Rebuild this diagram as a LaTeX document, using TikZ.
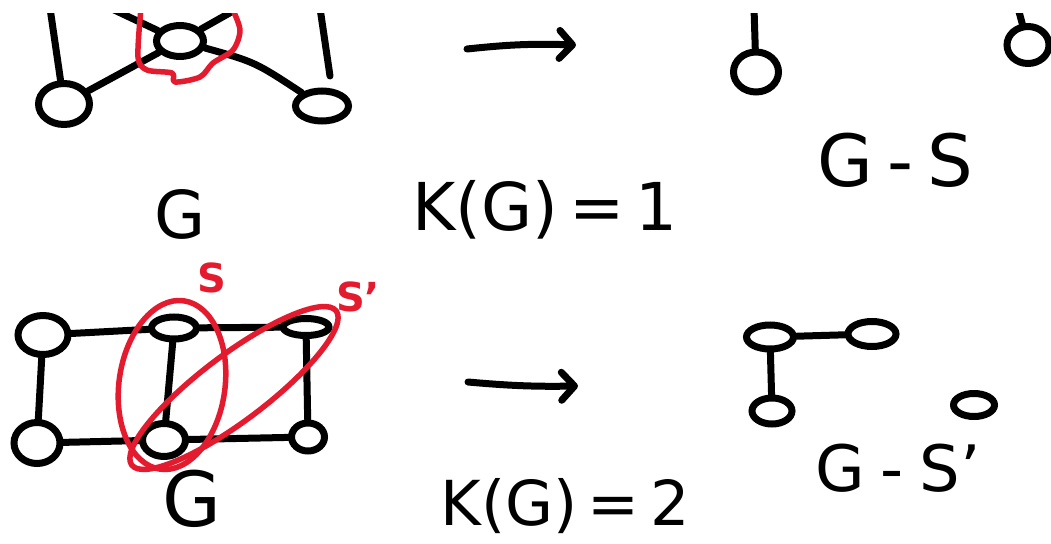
\documentclass[tikz,border=0pt]{standalone}
\usepackage{fontspec}
\setmainfont{DejaVu Sans}
\usetikzlibrary{shapes.geometric,arrows.meta}
\definecolor{inkred}{RGB}{228,26,46}
\tikzset{
  ink/.style={line width=7pt, line cap=round, line join=round, black},
  redink/.style={line width=5.5pt, line cap=round, line join=round, inkred},
  vert/.style={ellipse, draw, line width=7pt, inner sep=0pt},
  txt/.style={inner sep=0pt, font=\fontsize{66}{70}\selectfont},
  redtxt/.style={inner sep=0pt, text=inkred, font=\bfseries\fontsize{40}{44}\selectfont},
  harrow/.style={ink, -{Straight Barb[length=13pt, width=28pt, line cap=round, line join=round]}}
}
\begin{document}
\begin{tikzpicture}[x=1pt, y=-1pt]
\useasboundingbox (0,0) rectangle (1051,543);
\fill[white] (0,0) rectangle (1051,543);
\clip (0,14) rectangle (1051,543);
% ---------- top graph G ----------
\node[vert, minimum width=47pt, minimum height=31pt] (c) at (180,41) {};
\node[vert, minimum width=51pt, minimum height=41pt] (l) at (64,104) {};
\node[vert, minimum width=53pt, minimum height=30pt] (r) at (322,106) {};
\coordinate (cul) at (110,8);
\coordinate (cur) at (242,6);
\coordinate (lt) at (50,8);
\coordinate (rt) at (320,8);
\coordinate (rtb) at (330,76);
\draw[ink] (c) -- (cul);
\draw[ink] (c) -- (cur);
\draw[ink] (l) -- (lt);
\draw[ink] (l) -- (c);
\draw[ink] (c) .. controls (255,62) .. (r);
\draw[ink] (rt) -- (rtb);
\draw[redink] plot[smooth] coordinates {(141,8) (138,57) (147,70) (172,73) (175,82) (200,77) (213,63) (233,50) (240,30) (232,8)};
\node[txt] (g1) at (180,214) {G};
% arrow 1
\coordinate (a1s) at (467,49);
\coordinate (a1e) at (576,45);
\draw[harrow] (a1s) to[bend left=4] (a1e);
\node[txt] (k1) at (545,210) {K(G)\,=\,1};
% ---------- top right G-S ----------
\node[vert, minimum width=45pt, minimum height=40pt] (p) at (756,72) {};
\node[vert, minimum width=42pt, minimum height=37pt] (q) at (1028,45) {};
\coordinate (pt) at (754,8);
\coordinate (qt) at (1018,8);
\draw[ink] (p) -- (pt);
\draw[ink] (q) -- (qt);
\node[txt, font=\fontsize{72}{76}\selectfont] (gs) at (895,160) {G\hspace{14pt}-\hspace{14pt}S};
% ---------- bottom graph G ----------
\node[vert, minimum width=50pt, minimum height=39pt] (TL) at (43,335) {};
\node[vert, minimum width=45pt, minimum height=22pt] (TM) at (174,328) {};
\node[vert, minimum width=46pt, minimum height=17pt] (TR) at (306,327) {};
\node[vert, minimum width=46pt, minimum height=41pt] (BL) at (37,443) {};
\node[vert, minimum width=43pt, minimum height=33pt] (BM) at (164,440) {};
\node[vert, minimum width=33pt, minimum height=28pt] (BR) at (308,437) {};
\draw[ink] (TL) -- (TM);
\draw[ink] (TM) -- (TR);
\draw[ink] (TL) -- (BL);
\draw[ink] (TM) -- (BM);
\draw[ink] (TR) -- (BR);
\draw[ink] (BL) -- (BM);
\draw[ink] (BM) -- (BR);
\draw[redink, rotate around={-8:(172,385)}] (172,385) ellipse [x radius=53, y radius=85];
\draw[redink, rotate around={37:(234,388)}] (234,388) ellipse [x radius=128, y radius=33];
\node[redtxt] (s) at (212,278) {S};
\node[redtxt] (sp) at (358,297) {S'};
\node[txt, font=\fontsize{76}{80}\selectfont] (g2) at (192,499) {G};
% arrow 2
\coordinate (a2s) at (468,382);
\coordinate (a2e) at (578,386);
\draw[harrow] (a2s) to[bend right=3] (a2e);
\node[txt, font=\fontsize{62}{66}\selectfont] (k2) at (565,506) {K(G)\,=\,2};
% ---------- bottom right G-S' ----------
\node[vert, minimum width=47pt, minimum height=24pt] (A) at (770,337) {};
\node[vert, minimum width=48pt, minimum height=25pt] (B) at (872,334) {};
\node[vert, minimum width=40pt, minimum height=26pt] (C) at (772,411) {};
\node[vert, minimum width=41pt, minimum height=23pt] (D) at (974,405) {};
\draw[ink] (A) -- (B);
\draw[ink] (A) -- (C);
\node[txt, font=\fontsize{64}{68}\selectfont] (gs2) at (898,468) {G\hspace{16pt}-\hspace{16pt}S'};
\end{tikzpicture}
\end{document}
